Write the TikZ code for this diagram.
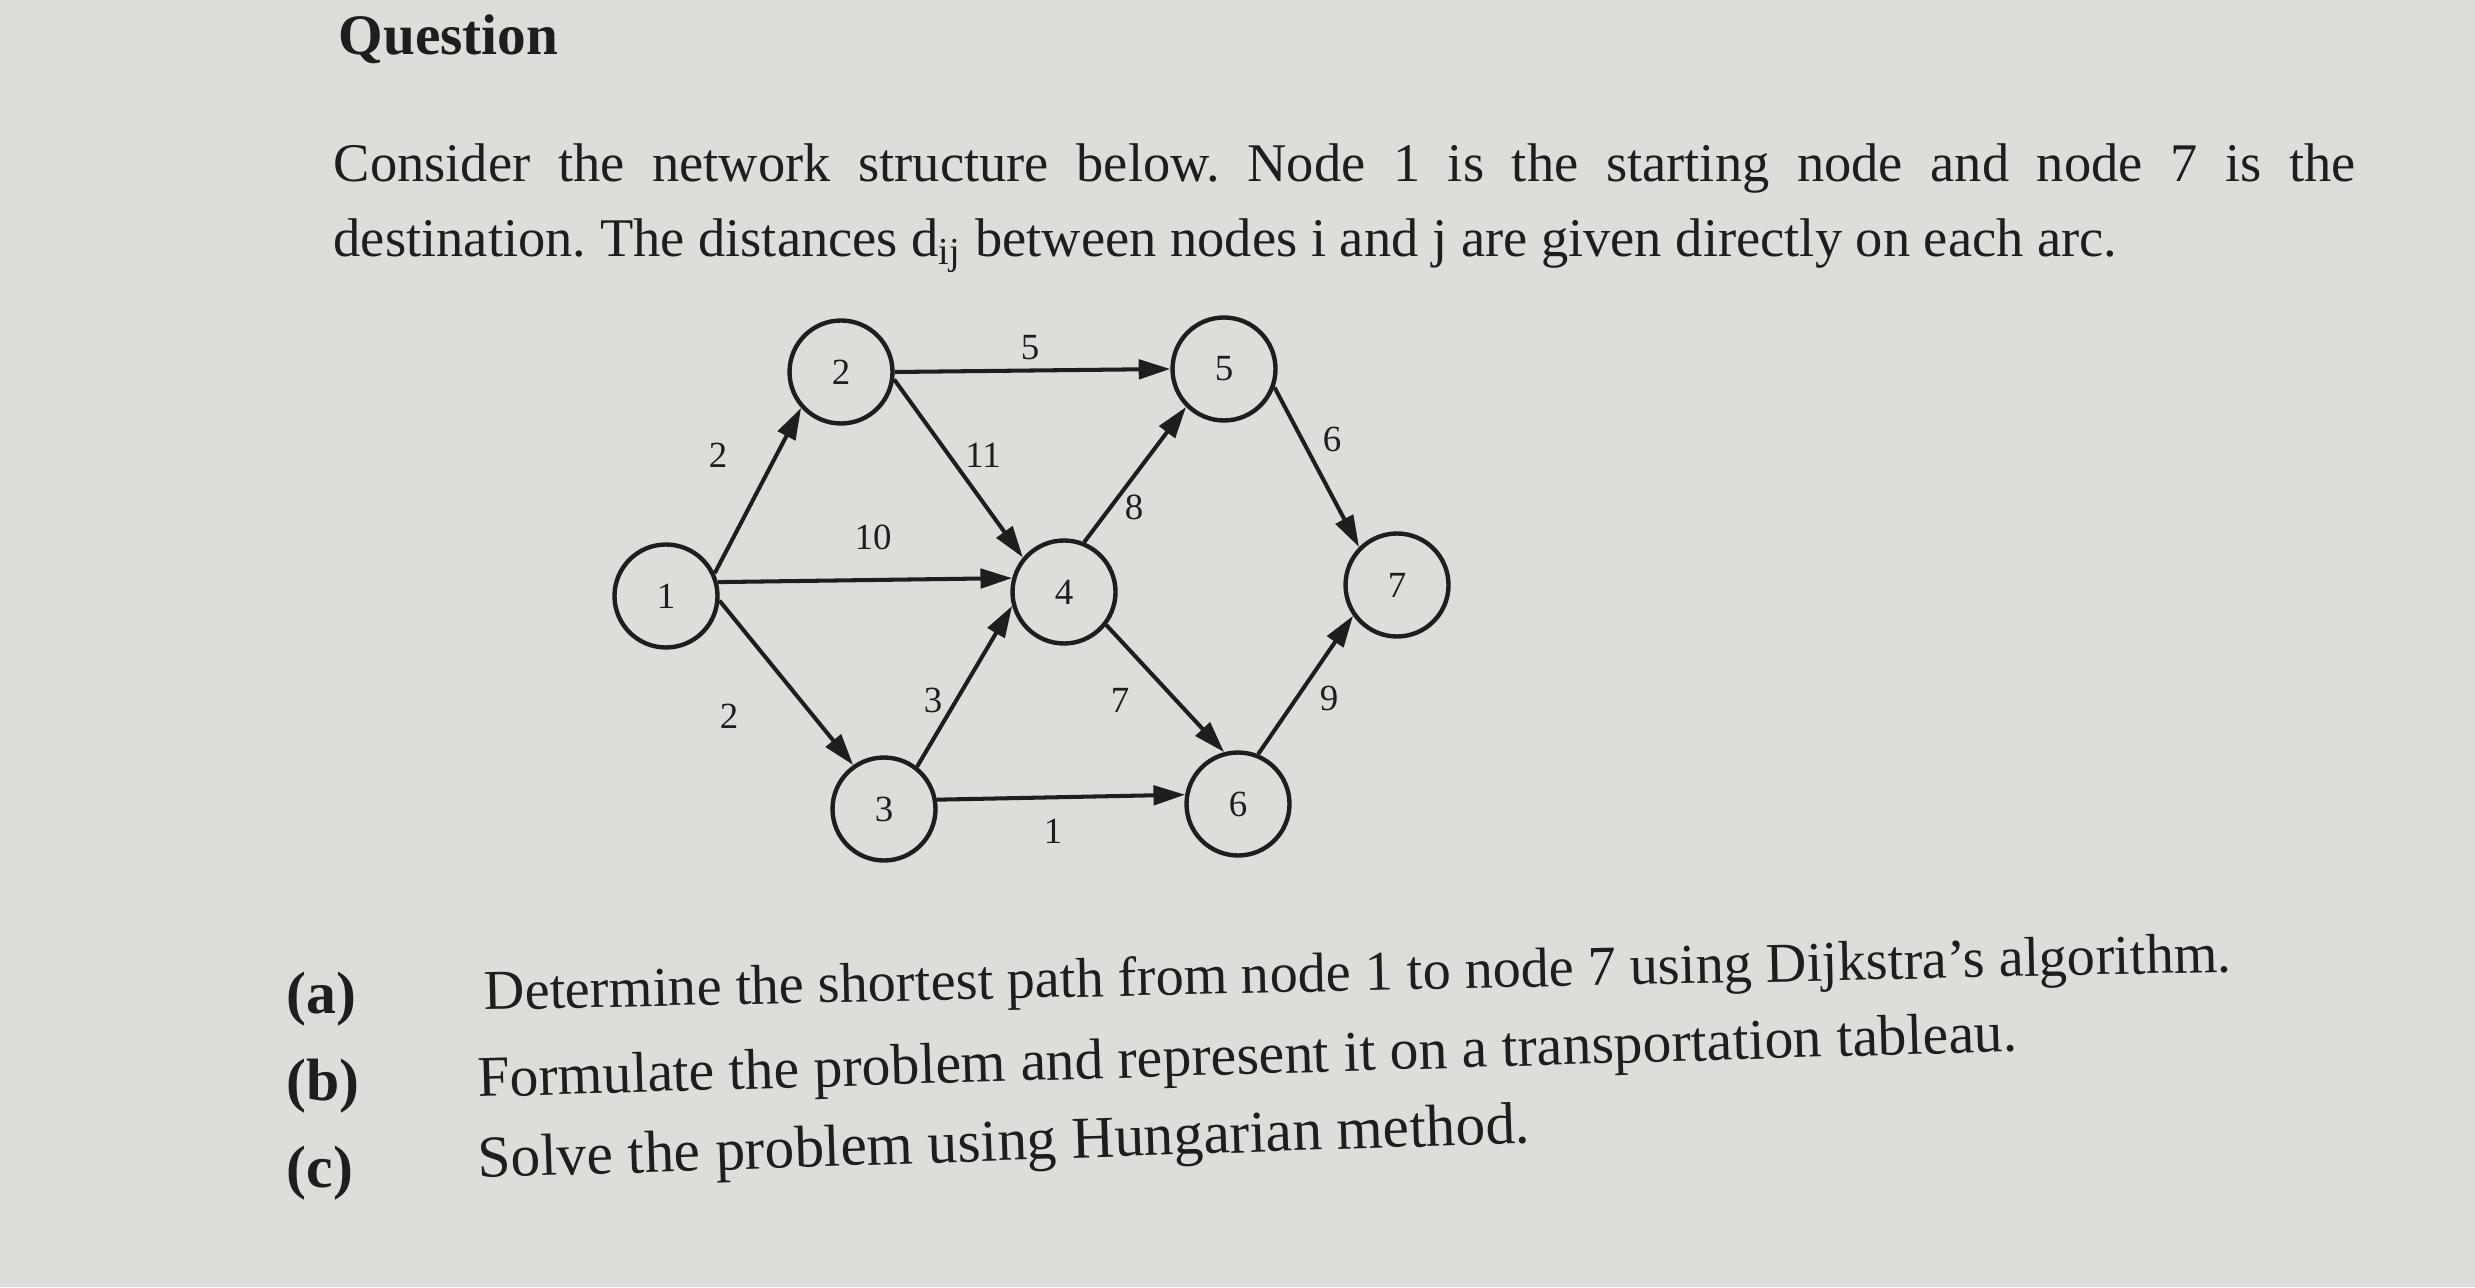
\documentclass[tikz,border=0pt]{standalone}
\usepackage{fontspec}
\setmainfont{Liberation Serif}
\usetikzlibrary{arrows.meta}
\definecolor{paper}{RGB}{221,222,217}
\definecolor{ink}{RGB}{30,30,30}
\frenchspacing

\begin{document}
\begin{tikzpicture}[font=\fontsize{10.5}{12}\selectfont,draw=ink,text=ink,>={Triangle[length=9pt,width=5.5pt]}]
    \tikzstyle{station}=[circle,line width=1.25pt,draw=ink,minimum size=1.03cm,inner sep=0pt]
    \tikzstyle{arc}=[->,line width=1.15pt]
    \tikzstyle{dist}=[inner sep=0pt]
    \tikzstyle{words}=[anchor=base west,inner sep=0pt]

    \fill[paper] (0,0) rectangle (24.75,12.87);
    \useasboundingbox (0,0) rectangle (24.75,12.87);

    \node[words,font=\fontsize{16.3}{19}\selectfont\bfseries] (title) at (3.38,12.32) {Question};
    \node[words,font=\fontsize{15.5}{21}\selectfont] (line1) at (3.33,11.05)
        {\makebox[20.22cm][s]{Consider the network structure below. Node 1 is the starting node and node 7 is the}};
    \node[words,font=\fontsize{15.5}{21}\selectfont] (line2) at (3.33,10.30)
        {destination. The distances d\textsubscript{ij} between nodes i and j are given directly on each arc.};

    \node[station] (n1) at (6.66,6.91) {1};
    \node[station] (n2) at (8.41,9.15) {2};
    \node[station] (n3) at (8.84,4.78) {3};
    \node[station] (n4) at (10.64,6.95) {4};
    \node[station] (n5) at (12.24,9.18) {5};
    \node[station] (n6) at (12.38,4.83) {6};
    \node[station] (n7) at (13.97,7.02) {7};

    \draw[arc] (n1.25) -- (n2.222);
    \draw[arc] (n1.15) -- (n4.165);
    \draw[arc] (n1.-5) -- (n3.125);
    \draw[arc] (n2.0) -- (n5.180);
    \draw[arc] (n2.-8) -- (n4.140);
    \draw[arc] (n3.52) -- (n4.195);
    \draw[arc] (n3.10) -- (n6.170);
    \draw[arc] (n4.68) -- (n5.225);
    \draw[arc] (n4.-38) -- (n6.105);
    \draw[arc] (n5.-20) -- (n7.135);
    \draw[arc] (n6.68) -- (n7.215);

    \node[dist] (d25) at (10.30,9.39) {5};
    \node[dist] (d12) at (7.18,8.32) {2};
    \node[dist] (d24) at (9.83,8.32) {11};
    \node[dist] (d14) at (8.73,7.50) {10};
    \node[dist] (d45) at (11.34,7.80) {8};
    \node[dist] (d57) at (13.32,8.48) {6};
    \node[dist] (d13) at (7.29,5.71) {2};
    \node[dist] (d34) at (9.33,5.87) {3};
    \node[dist] (d46) at (11.20,5.87) {7};
    \node[dist] (d67) at (13.29,5.89) {9};
    \node[dist] (d36) at (10.53,4.56) {1};

    \node[words,font=\fontsize{17}{20}\selectfont\bfseries] (ia) at (2.86,2.74) {(a)};
    \node[words,font=\fontsize{17}{20}\selectfont\bfseries] (ib) at (2.86,1.87) {(b)};
    \node[words,font=\fontsize{17}{20}\selectfont\bfseries] (ic) at (2.86,1.00) {(c)};
    \node[words,rotate=1.25,font=\fontsize{16}{19}\selectfont] (ta) at (4.84,2.77)
        {Determine the shortest path from node 1 to node 7 using Dijkstra’s algorithm.};
    \node[words,rotate=1.7,font=\fontsize{16.4}{19}\selectfont] (tb) at (4.78,1.90)
        {Formulate the problem and represent it on a transportation tableau.};
    \node[words,rotate=1.9,font=\fontsize{16.9}{19}\selectfont] (tc) at (4.78,1.09)
        {Solve the problem using Hungarian method.};
\end{tikzpicture}
\end{document}
